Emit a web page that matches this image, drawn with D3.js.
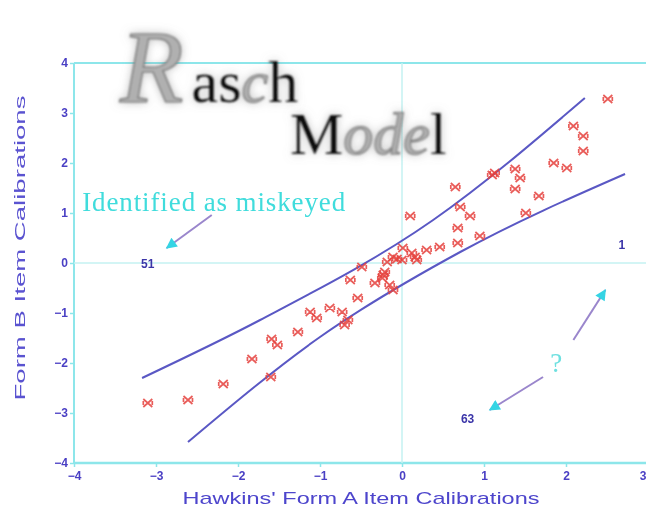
<!DOCTYPE html>
<html><head><meta charset="utf-8">
<script src="https://cdn.jsdelivr.net/npm/d3@7"></script>
<style>body{margin:0;background:#fff}svg{display:block}</style>
</head><body>
<svg id="c" width="646" height="517"></svg>
<script>
// ---- data ----
const formA = [2.51,2.09,2.21,2.21,1.85,2.01,1.13,1.10,1.38,1.44,1.38,1.67,1.51,0.65,0.71,0.83,0.68,0.68,0.95,0.10,0.46,0.30,0.16,0.01,0.12,0.18,0.00,-0.18,-0.11,-0.49,-0.63,-0.54,-0.33,-0.23,-0.15,-0.11,-1.12,-1.04,-0.88,-0.73,-0.66,-0.70,-1.27,-1.59,-1.52,-1.60,-1.83,-2.18,-2.61,-3.10,-0.24,-0.06,-0.21];
const formB = [3.28,2.74,2.54,2.24,2.00,1.90,1.80,1.76,1.88,1.70,1.48,1.34,1.00,1.52,1.12,0.94,0.70,0.40,0.54,0.94,0.32,0.26,0.12,0.30,0.20,0.06,0.06,0.02,0.12,-0.08,-0.34,-0.70,-0.40,-0.24,-0.44,-0.54,-0.98,-1.10,-0.90,-0.98,-1.14,-1.24,-1.38,-1.52,-1.64,-2.28,-1.92,-2.42,-2.74,-2.80,-0.30,0.08,-0.18];
const upperA = [-3.17,-1.73,0.38,2.23];
const upperB = [-2.30,-1.14,0.86,3.30];
const lowerA = [-2.61,-1.00,0.71,2.72];
const lowerB = [-3.58,-1.48,0.22,1.78];
const xTicks = [-4,-3,-2,-1,0,1,2,3];
const yTicks = [-4,-3,-2,-1,0,1,2,3,4];
const itemLabels = ["51","1","63"];
const itemLabelX = [-3.10,2.68,0.80];
const itemLabelY = [-0.02,0.36,-3.12];
const arrowFromX = [-2.32,2.09,1.72];
const arrowFromY = [0.96,-1.54,-2.28];
const arrowToX = [-2.87,2.48,1.07];
const arrowToY = [0.30,-0.54,-2.94];
const xTitle = "Hawkins' Form A Item Calibrations";
const yTitle = "Form B Item Calibrations";
const noteText = "Identified as miskeyed";

const svg = d3.select("#c");
const x = d3.scaleLinear().domain([-4,3]).range([74,648]);
const y = d3.scaleLinear().domain([-4,4]).range([463,63]);

const defs = svg.append("defs");
const glow = defs.append("filter").attr("id","glow").attr("x","-30%").attr("y","-30%").attr("width","160%").attr("height","160%");
glow.append("feGaussianBlur").attr("in","SourceAlpha").attr("stdDeviation",5).attr("result","b");
glow.append("feFlood").attr("flood-color","#888").attr("flood-opacity",0.55);
glow.append("feComposite").attr("in2","b").attr("operator","in").attr("result","s");
glow.append("feGaussianBlur").attr("in","SourceGraphic").attr("stdDeviation",0.9).attr("result","g");
const gm = glow.append("feMerge");
gm.append("feMergeNode").attr("in","s");
gm.append("feMergeNode").attr("in","g");
const soft = defs.append("filter").attr("id","soft");
soft.append("feGaussianBlur").attr("stdDeviation",0.55);
defs.append("marker").attr("id","head").attr("viewBox","0 0 10 10").attr("refX",9).attr("refY",5)
  .attr("markerWidth",17).attr("markerHeight",11).attr("markerUnits","userSpaceOnUse").attr("orient","auto")
  .append("path").attr("d","M0,0 L10,5 L0,10 z").attr("fill","#34d4e4");

const cyan = "#8de6ea";
const blue = "#4a3fc4";
const g = svg.append("g").attr("filter","url(#soft)");

// frame and zero lines
g.append("line").attr("x1",x(-4)).attr("x2",x(3)).attr("y1",y(4)).attr("y2",y(4)).attr("stroke",cyan).attr("stroke-width",2);
g.append("line").attr("x1",x(-4)).attr("x2",x(3)).attr("y1",y(-4)).attr("y2",y(-4)).attr("stroke",cyan).attr("stroke-width",2.5);
g.append("line").attr("x1",x(-4)).attr("x2",x(-4)).attr("y1",y(4)).attr("y2",y(-4)).attr("stroke",cyan).attr("stroke-width",2);
g.append("line").attr("x1",x(0)).attr("x2",x(0)).attr("y1",y(4)).attr("y2",y(-4)).attr("stroke","#c4f2f2").attr("stroke-width",1.5);
g.append("line").attr("x1",x(-4)).attr("x2",x(3)).attr("y1",y(0)).attr("y2",y(0)).attr("stroke","#c4f2f2").attr("stroke-width",1.5);

// axes
const ax = g.append("g").attr("transform",`translate(0,${y(-4)})`)
  .call(d3.axisBottom(x).tickValues(xTicks).tickSize(4).tickPadding(4).tickFormat(d=>d<0?"\u2212"+(-d):d));
const ay = g.append("g").attr("transform",`translate(${x(-4)},0)`)
  .call(d3.axisLeft(y).tickValues(yTicks).tickSize(4).tickPadding(2).tickFormat(d=>d<0?"\u2212"+(-d):d));
[ax,ay].forEach(a=>{
  a.select(".domain").remove();
  a.selectAll(".tick line").attr("stroke",cyan).attr("stroke-width",1.5);
  a.selectAll("text").attr("fill",blue).attr("font-family","Liberation Sans Narrow, Liberation Sans, sans-serif")
   .attr("font-weight","bold").attr("font-size",12);
});
ax.selectAll(".tick").filter(d=>d===3).select("text").attr("text-anchor","end").attr("dx",-2);

// axis titles
g.append("text").attr("x",361).attr("y",504).attr("text-anchor","middle")
  .attr("font-family","Liberation Sans, sans-serif").attr("font-size",17).attr("fill","#4d45cc")
  .attr("textLength",357).attr("lengthAdjust","spacingAndGlyphs").text(xTitle);
g.append("text").attr("transform","translate(25,248) rotate(-90)").attr("text-anchor","middle")
  .attr("font-family","Liberation Sans, sans-serif").attr("font-size",15).attr("fill","#5a52d0")
  .attr("textLength",305).attr("lengthAdjust","spacingAndGlyphs").text(yTitle);

// control lines
const line = d3.line().x(d=>x(d[0])).y(d=>y(d[1])).curve(d3.curveMonotoneX);
g.append("path").attr("d",line(d3.zip(upperA,upperB))).attr("fill","none").attr("stroke","#5a58c4").attr("stroke-width",2);
g.append("path").attr("d",line(d3.zip(lowerA,lowerB))).attr("fill","none").attr("stroke","#5a58c4").attr("stroke-width",2);

// points
const mk = "M-4.5,-4 L4.5,4 M-4.5,4 L4.5,-4 M-4.5,-2 L-4.5,2 M4.5,-2 L4.5,2";
g.append("g").selectAll("path").data(d3.zip(formA,formB)).join("path")
  .attr("transform",d=>`translate(${x(d[0])},${y(d[1])})`).attr("d",mk)
  .attr("fill","none").attr("stroke","#e5413c").attr("stroke-width",1.7).attr("stroke-opacity",0.85);

// item labels
g.append("g").selectAll("text").data(itemLabels).join("text")
  .attr("x",(d,i)=>x(itemLabelX[i])).attr("y",(d,i)=>y(itemLabelY[i])+4).attr("text-anchor","middle")
  .attr("font-family","Liberation Sans, sans-serif").attr("font-weight","bold").attr("font-size",12)
  .attr("fill","#3a34a8").text(d=>d);

// arrows
g.append("g").selectAll("line").data(itemLabels).join("line")
  .attr("x1",(d,i)=>x(arrowFromX[i])).attr("y1",(d,i)=>y(arrowFromY[i]))
  .attr("x2",(d,i)=>x(arrowToX[i])).attr("y2",(d,i)=>y(arrowToY[i]))
  .attr("stroke","#9a86cc").attr("stroke-width",2).attr("marker-end","url(#head)");

// notes
g.append("text").attr("x",x(-3.90)).attr("y",y(1.0)-2)
  .attr("font-family","Liberation Serif, serif").attr("font-size",27).attr("fill","#3fdcdc")
  .attr("textLength",263).attr("lengthAdjust","spacing").text(noteText);
g.append("text").attr("x",x(1.88)).attr("y",y(-2.18)).attr("text-anchor","middle")
  .attr("font-family","Liberation Serif, serif").attr("font-size",27).attr("fill","#6ee0e0").text("?");

// title
const t1 = svg.append("text").attr("x",120).attr("y",102).attr("font-family","Liberation Serif, serif").attr("filter","url(#glow)");
t1.append("tspan").attr("font-size",104).attr("font-style","italic").attr("fill","#b0b0b0").attr("stroke","#707070").attr("stroke-width",1.2).text("R");
t1.append("tspan").attr("dx",8).attr("font-size",60).attr("fill","#111").text("as");
t1.append("tspan").attr("font-size",60).attr("font-style","italic").attr("fill","#b0b0b0").attr("stroke","#707070").attr("stroke-width",1).text("c");
t1.append("tspan").attr("font-size",60).attr("fill","#111").text("h");
const t2 = svg.append("text").attr("x",290).attr("y",154).attr("font-family","Liberation Serif, serif").attr("filter","url(#glow)");
t2.append("tspan").attr("font-size",60).attr("fill","#111").text("M");
t2.append("tspan").attr("font-size",60).attr("font-style","italic").attr("fill","#b0b0b0").attr("stroke","#707070").attr("stroke-width",1).text("ode");
t2.append("tspan").attr("font-size",60).attr("fill","#111").text("l");
</script>
</body></html>
